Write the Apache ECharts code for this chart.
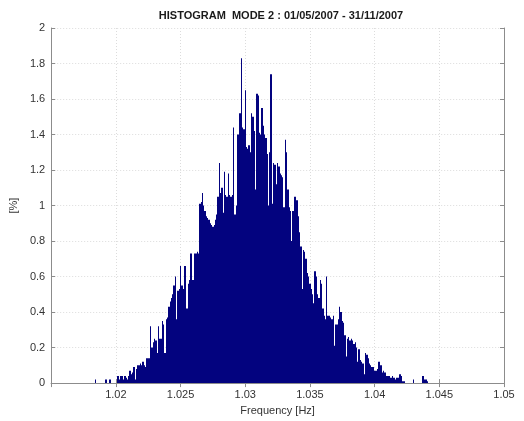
<!DOCTYPE html>
<html>
<head>
<meta charset="utf-8">
<script src="https://cdn.jsdelivr.net/npm/echarts@6/dist/echarts.min.js"></script>
<style>
html,body{margin:0;padding:0;background:#fff;}
#chart{width:524px;height:421px;}
</style>
</head>
<body>
<div id="chart"></div>
<script>
// Histogram bins: first bin centre and bin width (Hz)
const binStart = 1.018;
const binWidth = 0.0001;
// Percentage per bin
const percents = [
  0,0,0,0,0.02,0,0,0,0,0,
  0,0,0.02,0.02,0,0.02,0.02,0,0,0,
  0,0.04,0.04,0.02,0.04,0.04,0.02,0.04,0.03,0.02,
  0.04,0.07,0.05,0.06,0.09,0.02,0.08,0.1,0.1,0.11,
  0.1,0.12,0.1,0.09,0.14,0.14,0.14,0.32,0.2,0.23,
  0.25,0.24,0.17,0.32,0.25,0.25,0.35,0.33,0.17,0.36,
  0.37,0.43,0.46,0.48,0.5,0.55,0.6,0.36,0.52,0.53,
  0.66,0.55,0.53,0.66,0.66,0.42,0.56,0.58,0.73,0.58,
  0.58,0.73,0.73,0.74,0.73,1.01,1.02,1.07,1.0,0.97,
  0.94,0.93,0.92,0.9,0.89,0.88,0.89,0.92,0.95,1.05,
  1.24,1.07,1.1,0.96,1.19,1.06,1.05,1.18,1.06,1.05,
  1.06,1.44,0.95,1.0,1.4,1.4,1.52,1.83,1.44,1.43,
  1.65,1.33,1.32,1.34,1.3,1.52,1.5,1.42,1.09,1.63,
  1.62,1.41,1.4,1.55,1.45,1.4,1.38,1.29,1.0,1.3,
  1.74,1.01,1.24,1.23,1.12,1.24,1.22,1.18,1.17,1.16,
  0.99,1.37,1.3,1.09,0.99,0.97,0.8,0.97,1.05,1.05,
  1.03,0.94,0.85,0.77,0.53,0.75,0.74,0.7,0.62,0.6,
  0.56,0.53,0.5,0.45,0.63,0.6,0.5,0.48,0.58,0.56,
  0.42,0.38,0.36,0.6,0.38,0.38,0.37,0.36,0.38,0.21,
  0.33,0.33,0.36,0.43,0.4,0.35,0.34,0.27,0.15,0.25,
  0.26,0.24,0.25,0.24,0.22,0.23,0.2,0.12,0.19,0.13,
  0.12,0.11,0.05,0.17,0.16,0.14,0.11,0.1,0.09,0.09,
  0.07,0.07,0.08,0.12,0.12,0.1,0.06,0.07,0.06,0.04,
  0.04,0.04,0.03,0.03,0.04,0.03,0.02,0.03,0.03,0.05,
  0.05,0.04,0.01,0.01,0,0,0,0,0,0,
  0.02,0,0,0,0,0,0,0.04,0.04,0.02,
  0.02,0.01
];
const xMin = 1.015, xMax = 1.05, xStep = 0.005;
const yMin = 0, yMax = 2, yStep = 0.2;
const titleText = 'HISTOGRAM  MODE 2 : 01/05/2007 - 31/11/2007';
const xName = 'Frequency [Hz]';
const yName = '[%]';

const data = percents.map((v, i) => [+(binStart + i * binWidth).toFixed(5), v]);
const barColor = '#03037f';
const font = 'Liberation Sans, Arial, sans-serif';

const chart = echarts.init(document.getElementById('chart'), null, {renderer: 'canvas'});
const axisLineStyle = {color: '#8c8c8c', width: 1};
const gridLine = {show: true, lineStyle: {color: '#dcdcdc', type: [1, 2], width: 1}};
chart.setOption({
  animation: false,
  backgroundColor: '#fff',
  title: {
    text: titleText, left: 276, top: 5, textAlign: 'center',
    textStyle: {fontFamily: font, fontSize: 11, fontWeight: 'bold', color: '#1a1a1a'}
  },
  grid: {left: 48, right: 20, top: 28, bottom: 36, show: false},
  xAxis: [{
    type: 'value', min: xMin, max: xMax, interval: xStep,
    name: xName, nameLocation: 'middle', nameGap: 18,
    nameTextStyle: {fontFamily: font, fontSize: 11, color: '#333'},
    axisLine: {show: true, lineStyle: axisLineStyle},
    axisTick: {show: true, inside: true, length: 4, lineStyle: axisLineStyle},
    axisLabel: {showMinLabel: false, fontFamily: font, fontSize: 11, color: '#333', margin: 6},
    splitLine: gridLine
  }, {
    type: 'value', position: 'top', min: xMin, max: xMax, interval: xStep,
    axisLine: {show: true, lineStyle: axisLineStyle},
    axisTick: {show: true, inside: true, length: 4, lineStyle: axisLineStyle},
    axisLabel: {show: false}, splitLine: {show: false}
  }],
  yAxis: [{
    type: 'value', min: yMin, max: yMax, interval: yStep,
    name: yName, nameLocation: 'middle', nameGap: 19, nameRotate: 90,
    nameTextStyle: {fontFamily: font, fontSize: 11, color: '#333'},
    axisLine: {show: true, lineStyle: axisLineStyle},
    axisTick: {show: true, inside: true, length: 4, lineStyle: axisLineStyle},
    axisLabel: {fontFamily: font, fontSize: 11, color: '#333', margin: 6},
    splitLine: gridLine
  }, {
    type: 'value', position: 'right', min: yMin, max: yMax, interval: yStep,
    axisLine: {show: true, lineStyle: axisLineStyle},
    axisTick: {show: true, inside: true, length: 4, lineStyle: axisLineStyle},
    axisLabel: {show: false}, splitLine: {show: false}
  }],
  series: [{
    type: 'custom',
    xAxisIndex: 0, yAxisIndex: 0,
    clip: true,
    data: data,
    renderItem: function (params, api) {
      const x = api.value(0), v = api.value(1);
      if (!v) return null;
      const p0 = api.coord([x - binWidth / 2, v]);
      const p1 = api.coord([x + binWidth / 2, 0]);
      const x0 = Math.round(p0[0]), x1 = Math.max(Math.round(p1[0]), x0 + 1);
      return {
        type: 'rect',
        shape: {x: x0, y: p0[1], width: x1 - x0, height: p1[1] - p0[1]},
        style: {fill: barColor}
      };
    }
  }]
});
</script>
</body>
</html>
